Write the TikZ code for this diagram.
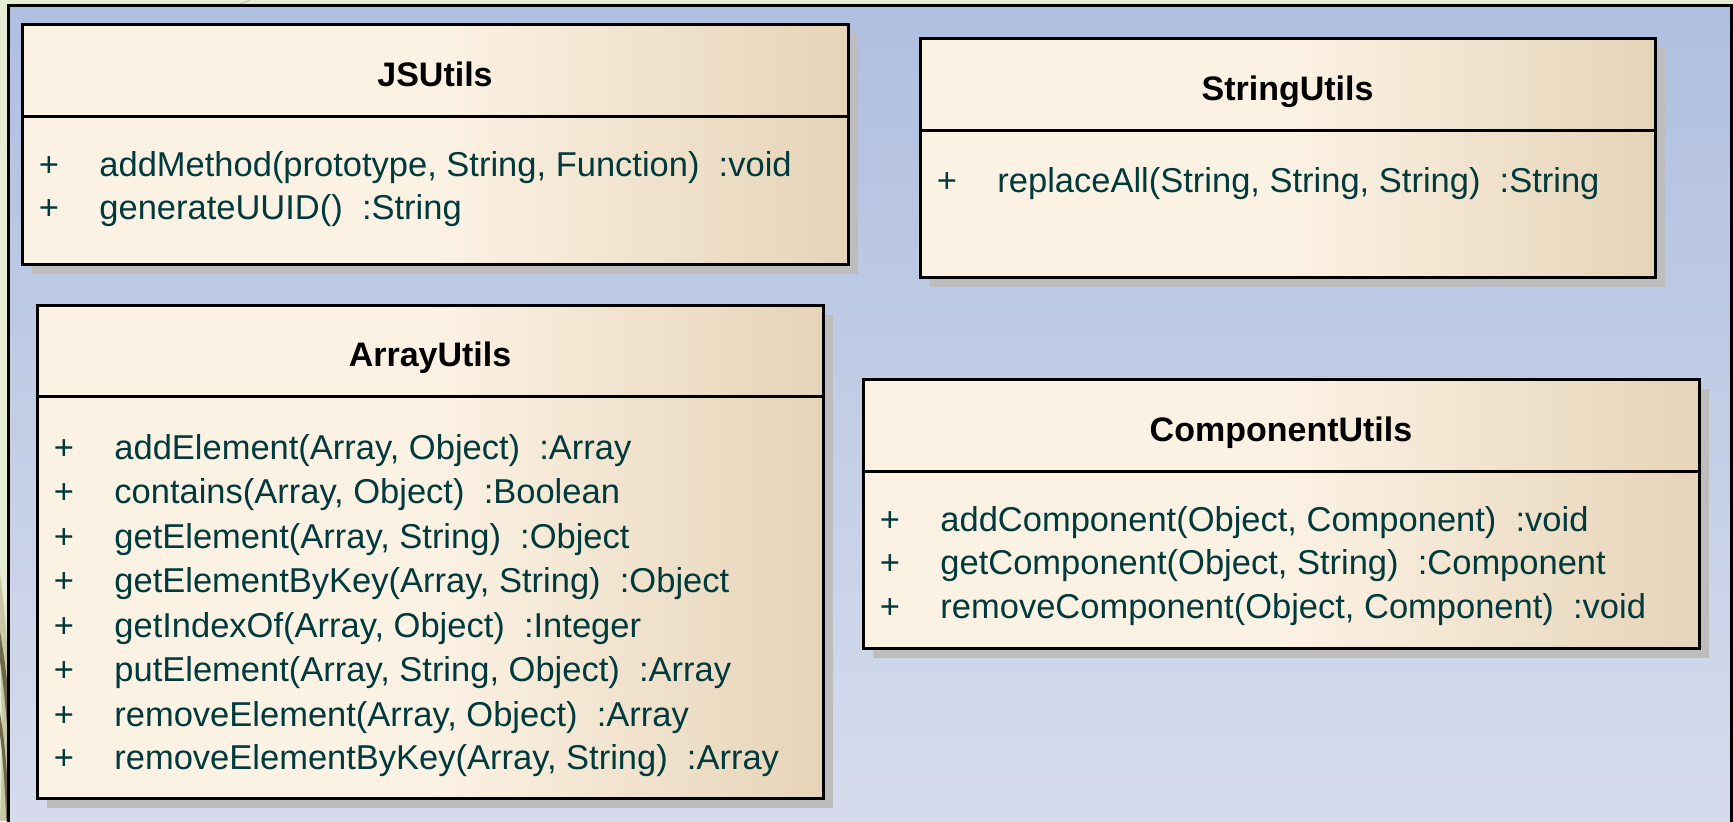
\documentclass[tikz,border=0pt]{standalone}
\usepackage{fontspec}
\setmainfont{Liberation Sans}
\usetikzlibrary{calc}

\definecolor{pagebg}{HTML}{E6EBD4}
\definecolor{olivedark}{HTML}{6E6848}
\definecolor{olivelight}{HTML}{C9C6A4}
\definecolor{frametop}{HTML}{AFBFE0}
\definecolor{framebot}{HTML}{D6DCEC}
\definecolor{boxcream}{HTML}{FCF2E4}
\definecolor{boxtan}{HTML}{E6D4B8}
\definecolor{boxshade}{HTML}{BDBDBD}
\definecolor{membertext}{RGB}{0,58,60}

\tikzset{
  classbox/.style={draw=black, line width=1.5pt, inner sep=0pt, outer sep=0pt,
    left color=boxcream, right color=boxtan, middle color=boxcream},
  classshadow/.style={fill=boxshade},
  classrule/.style={draw=black, line width=1.5pt},
  classtitle/.style={inner sep=0pt, font=\fontsize{17}{20}\selectfont\bfseries, text=black},
  vis/.style={inner sep=0pt, font=\fontsize{17.25}{20}\selectfont, text=membertext},
  member/.style={inner sep=0pt, anchor=base west, font=\fontsize{17.25}{20}\selectfont, text=membertext},
}

% #1 name, #2 title, #3 left, #4 top, #5 right, #6 bottom, #7 separator y
\newcommand\umlclass[7]{%
  \fill[classshadow] (#3+10,#4+10) rectangle (#5+10,#6+10);
  \node[classbox, anchor=north west,
        minimum width={(#5-#3)*0.5pt}, minimum height={(#6-#4)*0.5pt}] (#1) at (#3,#4) {};
  \coordinate (#1-sep) at (#3,#7);
  \draw[classrule] (#1-sep) -- (#1-sep -| #1.east);
  \node[classtitle, anchor=base] (#1-title) at ({(#3+#5)/2},{(#4+#7)/2+16}) {#2};
}

% #1 name, #2 box left, #3 baseline, #4 text
\newcommand\umlmember[4]{%
  \node[vis, anchor=base] (#1-vis) at (#2+27,#3) {+};
  \node[member] (#1) at (#2+77,#3) {#4};
}

\begin{document}
\begin{tikzpicture}[x=0.5pt, y=-0.5pt]
  \useasboundingbox (0,0) rectangle (1733,821);
  \fill[pagebg] (0,0) rectangle (1733,821);

  % decorative swirl on the page edge
  \begin{scope}
    \clip (0,540) rectangle (9,821);
    \draw[olivelight, line width=4pt] (-6,560) .. controls (6,640) and (8,720) .. (4,821);
    \draw[olivedark, line width=2.2pt] (-8,600) .. controls (2,650) and (8,700) .. (10,740);
    \draw[olivedark, line width=1.6pt] (-4,700) .. controls (4,740) and (6,780) .. (8,821);
  \end{scope}
  \draw[olivelight, line width=0.6pt] (238,5) -- (250,0);

  % diagram frame
  \path[top color=frametop, bottom color=framebot] (8.5,5.5) rectangle (1740,830);
  \draw[black, line width=1.5pt] (8.5,840) -- (8.5,5.5) -- (1731.5,5.5) -- (1731.5,840);

  % classes
  \umlclass{js}{JSUtils}{22}{24}{848}{264}{116}
  \umlmember{js-m1}{22}{176}{addMethod(prototype, String, Function)~~:void}
  \umlmember{js-m2}{22}{219}{generateUUID()~~:String}

  \umlclass{str}{StringUtils}{920}{38}{1655}{277}{130}
  \umlmember{str-m1}{920}{192}{replaceAll(String, String, String)~~:String}

  \umlclass{arr}{ArrayUtils}{37}{305}{823}{798}{396}
  \umlmember{arr-m1}{37}{459}{addElement(Array, Object)~~:Array}
  \umlmember{arr-m2}{37}{503}{contains(Array, Object)~~:Boolean}
  \umlmember{arr-m3}{37}{548}{getElement(Array, String)~~:Object}
  \umlmember{arr-m4}{37}{592}{getElementByKey(Array, String)~~:Object}
  \umlmember{arr-m5}{37}{637}{getIndexOf(Array, Object)~~:Integer}
  \umlmember{arr-m6}{37}{681}{putElement(Array, String, Object)~~:Array}
  \umlmember{arr-m7}{37}{726}{removeElement(Array, Object)~~:Array}
  \umlmember{arr-m8}{37}{769}{removeElementByKey(Array, String)~~:Array}

  \umlclass{comp}{ComponentUtils}{863}{379}{1699}{648}{471}
  \umlmember{comp-m1}{863}{531}{addComponent(Object, Component)~~:void}
  \umlmember{comp-m2}{863}{574}{getComponent(Object, String)~~:Component}
  \umlmember{comp-m3}{863}{618}{removeComponent(Object, Component)~~:void}
\end{tikzpicture}
\end{document}
